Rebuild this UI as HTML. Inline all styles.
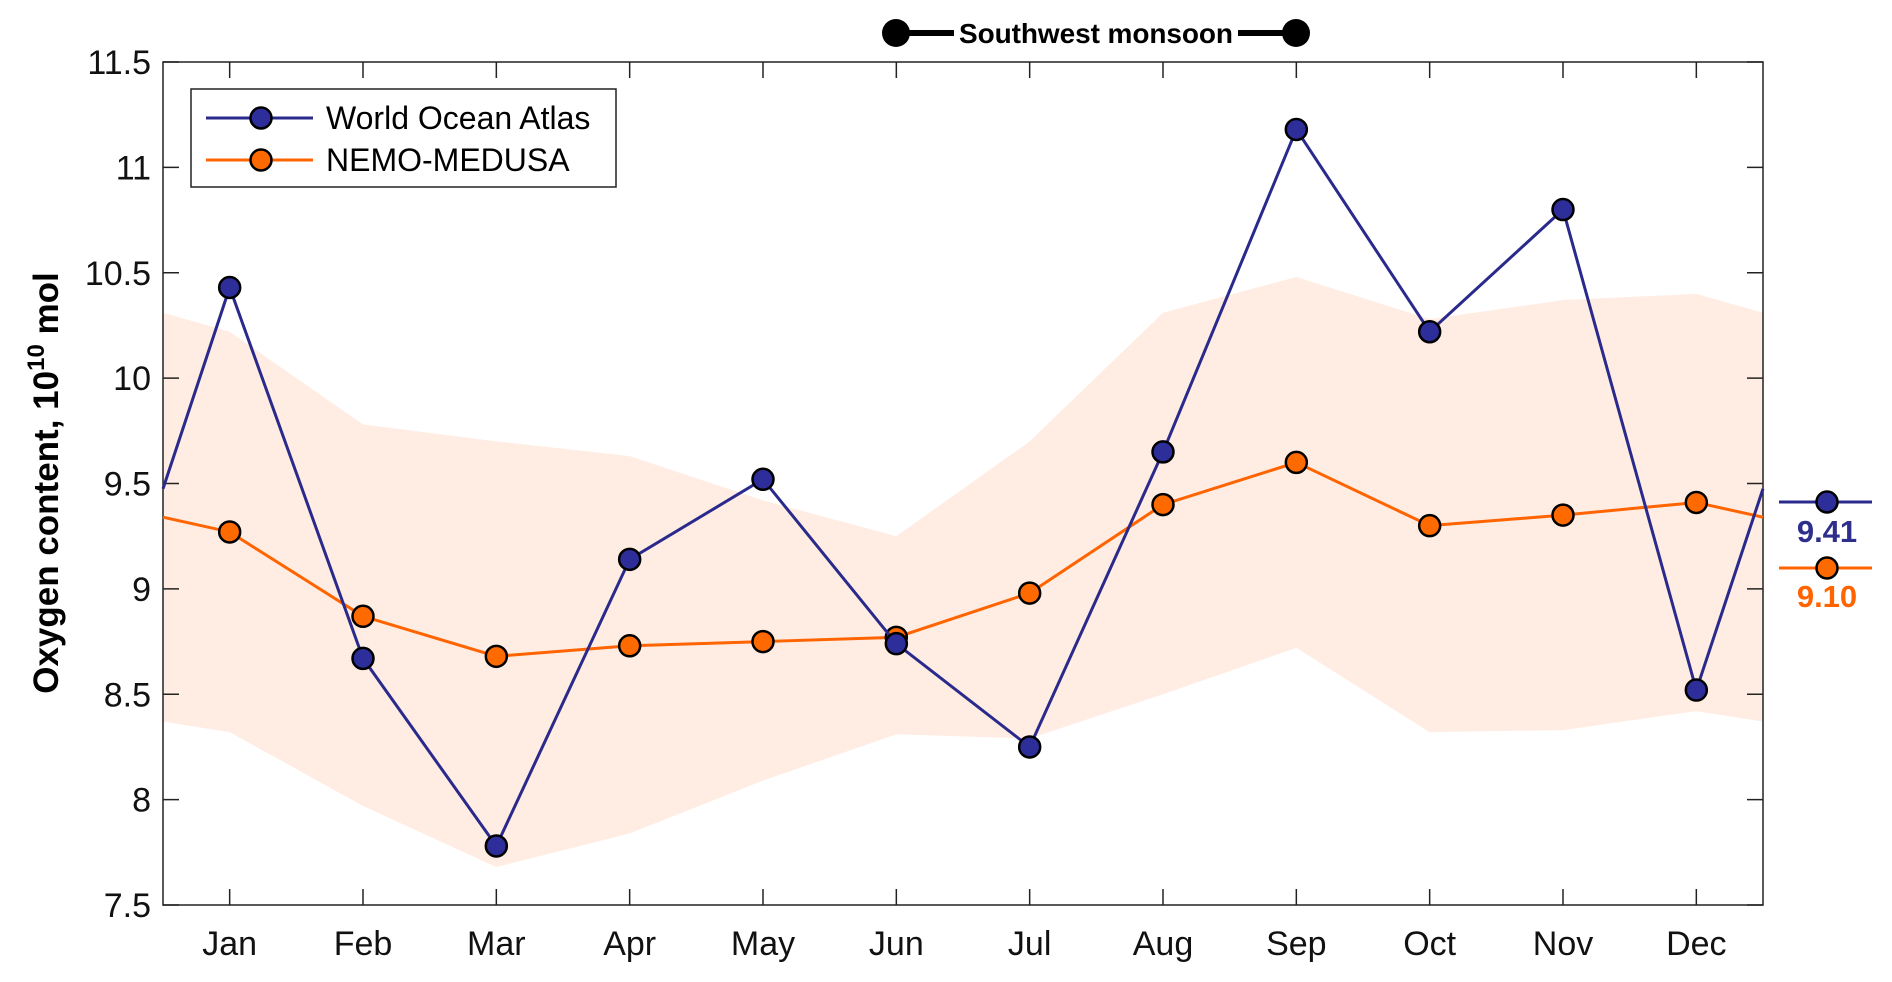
<!DOCTYPE html>
<html><head><meta charset="utf-8"><style>
html,body{margin:0;padding:0;background:#fff;}
svg{display:block;font-family:"Liberation Sans",Arial,sans-serif;}
</style></head><body>
<svg id="chart" width="1892" height="982" viewBox="0 0 1892 982">
<g id="band"></g>
<g id="grid"></g>
<g id="series"></g>
<g id="legend">
  <rect x="191" y="89" width="425" height="98" fill="#fff" stroke="#222" stroke-width="1.5"/>
  <g>
    <line x1="206" y1="118" x2="313" y2="118" stroke="#2a2a8c" stroke-width="3"/>
    <circle cx="261" cy="118" r="10.5" fill="#2e2e9a" stroke="#000" stroke-width="2.5"/>
    <text x="326" y="129" font-size="32" fill="#000">World Ocean Atlas</text>
  </g>
  <g>
    <line x1="206" y1="160" x2="313" y2="160" stroke="#ff6400" stroke-width="3"/>
    <circle cx="261" cy="160" r="10.5" fill="#ff6a00" stroke="#000" stroke-width="2.5"/>
    <text x="326" y="171" font-size="32" fill="#000">NEMO-MEDUSA</text>
  </g>
</g>
<g>
  <line x1="896" y1="33" x2="1296" y2="33" stroke="#000" stroke-width="6"/>
  <rect x="954" y="16" width="284" height="32" fill="#fff"/>
  <circle cx="896" cy="33" r="14" fill="#000"/>
  <circle cx="1296" cy="33" r="14" fill="#000"/>
  <text x="1096" y="43" font-size="28" font-weight="bold" text-anchor="middle" textLength="274">Southwest monsoon</text>
</g>
<g>
  <line x1="1779" y1="502" x2="1872" y2="502" stroke="#2a2a8c" stroke-width="3"/>
  <circle cx="1827" cy="502" r="10.5" fill="#2e2e9a" stroke="#000" stroke-width="2.5"/>
  <text x="1827" y="542" font-size="31" font-weight="bold" fill="#2e2e8c" text-anchor="middle">9.41</text>
  <line x1="1779" y1="568" x2="1872" y2="568" stroke="#ff6400" stroke-width="3"/>
  <circle cx="1827" cy="568" r="10.5" fill="#ff6a00" stroke="#000" stroke-width="2.5"/>
  <text x="1827" y="607" font-size="31" font-weight="bold" fill="#ff6400" text-anchor="middle">9.10</text>
</g>
<text transform="translate(58,483) rotate(-90)" font-size="35" font-weight="bold" text-anchor="middle">Oxygen content, 10<tspan font-size="24" dy="-14">10</tspan><tspan dy="14"> mol</tspan></text>
</svg>
<script>
const months = ["Jan","Feb","Mar","Apr","May","Jun","Jul","Aug","Sep","Oct","Nov","Dec"];
const woaValues = [10.43, 8.67, 7.78, 9.14, 9.52, 8.74, 8.25, 9.65, 11.18, 10.22, 10.80, 8.52];
const nemoValues = [9.27, 8.87, 8.68, 8.73, 8.75, 8.77, 8.98, 9.40, 9.60, 9.30, 9.35, 9.41];
const bandUpper = [10.22, 9.78, 9.70, 9.63, 9.42, 9.25, 9.70, 10.31, 10.48, 10.28, 10.37, 10.40];
const bandLower = [8.32, 7.97, 7.68, 7.84, 8.09, 8.31, 8.29, 8.50, 8.72, 8.32, 8.33, 8.42];
const yTicks = [7.5, 8, 8.5, 9, 9.5, 10, 10.5, 11, 11.5];
const yTickLabels = ["7.5","8","8.5","9","9.5","10","10.5","11","11.5"];

const L=163, R=1763, T=62, B=905, yMin=7.5, yMax=11.5;
const xs = m => L + (m - 0.5) / 12 * (R - L);
const ys = v => B - (v - yMin) / (yMax - yMin) * (B - T);
const NS="http://www.w3.org/2000/svg";
function mk(tag, attrs, parent){const e=document.createElementNS(NS,tag);for(const k in attrs)e.setAttribute(k,attrs[k]);parent.appendChild(e);return e;}
const edge = arr => (arr[0] + arr[arr.length-1]) / 2;

const band=document.getElementById('band');
let pts=[[0.5,edge(bandUpper)]];
bandUpper.forEach((v,i)=>pts.push([i+1,v]));
pts.push([12.5,edge(bandUpper)]);
pts.push([12.5,edge(bandLower)]);
for(let i=bandLower.length-1;i>=0;i--)pts.push([i+1,bandLower[i]]);
pts.push([0.5,edge(bandLower)]);
const bp=mk('polygon',{points:pts.map(p=>xs(p[0])+','+ys(p[1])).join(' '),fill:'#ffede3'},band);



const g=document.getElementById('grid');
const box=mk('rect',{x:L,y:T,width:R-L,height:B-T,fill:'none',stroke:'#222','stroke-width':1.5},g);


yTicks.forEach((v,i)=>{
  const y=ys(v);
  mk('line',{x1:L,y1:y,x2:L+16,y2:y,stroke:'#222','stroke-width':1.5},g);
  mk('line',{x1:R,y1:y,x2:R-16,y2:y,stroke:'#222','stroke-width':1.5},g);
  const t=mk('text',{x:L-12,y:y+12,'font-size':34,'text-anchor':'end',fill:'#111'},g);
  t.textContent=yTickLabels[i];
  
  
});
months.forEach((m,i)=>{
  const x=xs(i+1);
  mk('line',{x1:x,y1:B,x2:x,y2:B-16,stroke:'#222','stroke-width':1.5},g);
  mk('line',{x1:x,y1:T,x2:x,y2:T+16,stroke:'#222','stroke-width':1.5},g);
  const t=mk('text',{x:x,y:955,'font-size':34,'text-anchor':'middle',fill:'#111'},g);
  t.textContent=m;
  
  
});

const s=document.getElementById('series');
function drawSeries(vals,color,fill,name){
  const grp=mk('g',{},s);
  
  
  const p=[[0.5,edge(vals)]];
  vals.forEach((v,i)=>p.push([i+1,v]));
  p.push([12.5,edge(vals)]);
  const line=mk('polyline',{points:p.map(q=>xs(q[0])+','+ys(q[1])).join(' '),fill:'none',stroke:color,'stroke-width':3},grp);
  
  
  vals.forEach((v,i)=>{
    const c=mk('circle',{cx:xs(i+1),cy:ys(v),r:10.5,fill:fill,stroke:'#000','stroke-width':2.5},grp);
    
    
  });
}
drawSeries(nemoValues,'#ff6400','#ff6a00','nemo-medusa');
drawSeries(woaValues,'#2a2a8c','#2e2e9a','world-ocean-atlas');
</script>
</body></html>
